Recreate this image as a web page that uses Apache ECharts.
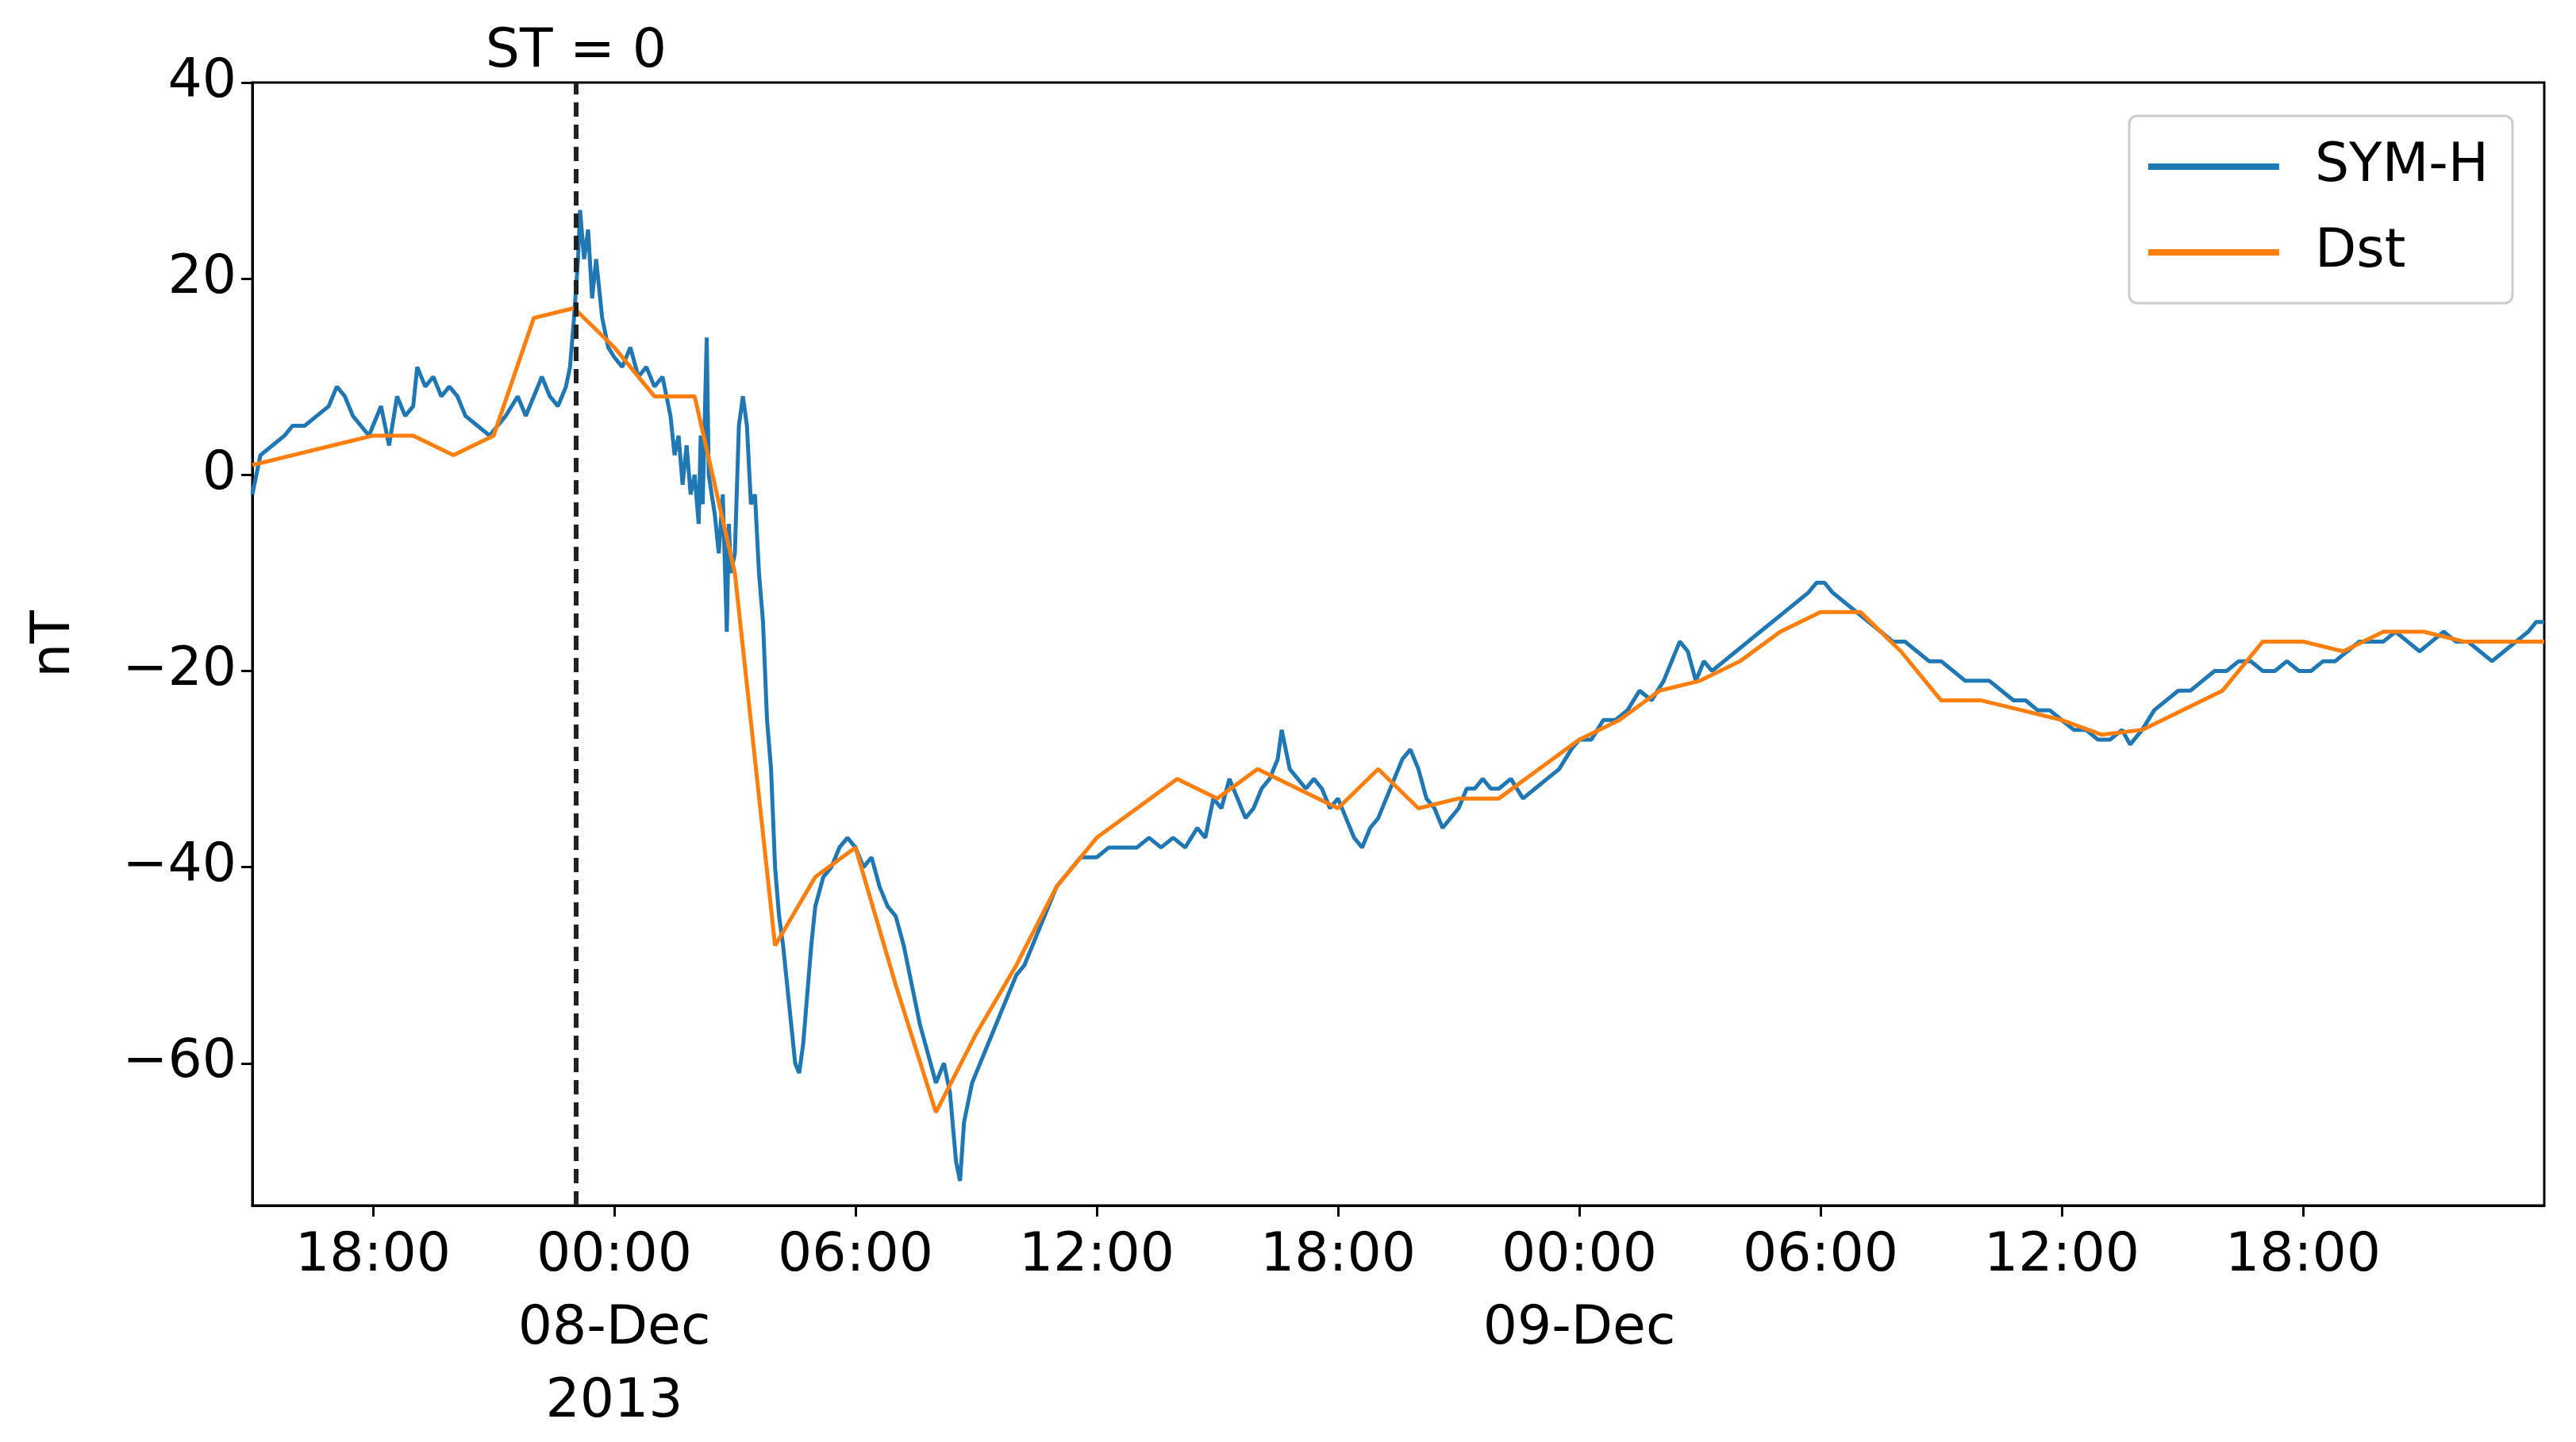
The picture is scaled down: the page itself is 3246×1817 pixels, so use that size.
<!DOCTYPE html>
<html>
<head>
<meta charset="utf-8">
<script src="https://cdn.jsdelivr.net/npm/echarts@6/dist/echarts.min.js"></script>
<style>html,body{margin:0;background:#fff}#c{width:3246px;height:1817px}</style>
</head>
<body>
<div id="c"></div>
<script>
// hours since 07-Dec-2013 00:00
const dstHours = [15,16,17,18,19,20,21,22,23,24,25,26,27,28,29,30,31,32,33,34,35,36,37,38,39,40,41,42,43,44,45,46,47,48,49,50,51,52,53,54,55,56,57,58,59,60,61,62,63,64,65,66,67,68,69,70,71,72];
const dstValues = [1,2,3,4,4,2,4,16,17,13,8,8,-10,-48,-41,-38,-52,-65,-57,-50,-42,-37,-34,-31,-33,-30,-32,-34,-30,-34,-33,-33,-30,-27,-25,-22,-21,-19,-16,-14,-14,-18,-23,-23,-24,-25,-26.5,-26,-24,-22,-17,-17,-18,-16,-16,-17,-17,-17];

const symhHours = [15.0,15.1,15.2,15.5,15.8,16.0,16.3,16.6,16.9,17.1,17.3,17.5,17.7,17.9,18.0,18.2,18.4,18.6,18.8,19.0,19.1,19.3,19.5,19.7,19.9,20.1,20.3,20.6,20.9,21.1,21.3,21.6,21.8,22.0,22.2,22.4,22.6,22.8,22.9,23.0,23.1,23.15,23.25,23.35,23.45,23.55,23.7,23.85,24.0,24.2,24.4,24.6,24.8,25.0,25.2,25.4,25.5,25.6,25.7,25.8,25.9,26.0,26.1,26.15,26.2,26.3,26.35,26.5,26.6,26.7,26.8,26.85,26.9,27.0,27.1,27.2,27.3,27.4,27.5,27.6,27.7,27.8,27.9,28.0,28.1,28.2,28.3,28.4,28.5,28.6,28.7,28.8,28.9,29.0,29.2,29.4,29.6,29.8,30.0,30.2,30.4,30.6,30.8,31.0,31.2,31.4,31.6,31.8,32.0,32.2,32.35,32.5,32.6,32.7,32.9,33.0,33.2,33.4,33.6,33.8,34.0,34.2,34.4,34.6,34.8,35.0,35.2,35.4,35.6,35.8,36.0,36.3,36.6,37.0,37.3,37.6,37.9,38.2,38.5,38.7,38.9,39.1,39.3,39.5,39.7,39.9,40.1,40.3,40.5,40.6,40.8,41.0,41.2,41.4,41.6,41.8,42.0,42.2,42.4,42.6,42.8,43.0,43.2,43.4,43.6,43.8,44.0,44.2,44.4,44.6,44.8,45.0,45.2,45.4,45.6,45.8,46.0,46.3,46.6,46.9,47.2,47.5,47.8,48.0,48.3,48.6,48.9,49.2,49.5,49.8,50.1,50.3,50.5,50.7,50.9,51.1,51.3,51.6,51.9,52.2,52.5,52.8,53.1,53.4,53.7,53.9,54.1,54.3,54.6,54.9,55.2,55.5,55.8,56.1,56.4,56.7,57.0,57.3,57.6,57.9,58.2,58.5,58.8,59.1,59.4,59.7,60.0,60.3,60.6,60.9,61.2,61.5,61.7,62.0,62.3,62.6,62.9,63.2,63.5,63.8,64.1,64.4,64.7,65.0,65.3,65.6,65.9,66.2,66.5,66.8,67.1,67.4,67.7,68.0,68.3,68.6,68.9,69.2,69.5,69.8,70.1,70.4,70.7,71.0,71.3,71.6,71.8,72.0];
const symhValues = [-2,0,2,3,4,5,5,6,7,9,8,6,5,4,5,7,3,8,6,7,11,9,10,8,9,8,6,5,4,5,6,8,6,8,10,8,7,9,11,16,22,27,22,25,18,22,16,13,12,11,13,10,11,9,10,6,2,4,-1,3,-2,0,-5,4,-3,14,0,-4,-8,-2,-16,-5,-10,-8,5,8,5,-3,-2,-10,-15,-25,-30,-40,-45,-48,-52,-56,-60,-61,-58,-53,-48,-44,-41,-40,-38,-37,-38,-40,-39,-42,-44,-45,-48,-52,-56,-59,-62,-60,-63,-70,-72,-66,-62,-61,-59,-57,-55,-53,-51,-50,-48,-46,-44,-42,-41,-40,-39,-39,-39,-38,-38,-38,-37,-38,-37,-38,-36,-37,-33,-34,-31,-33,-35,-34,-32,-31,-29,-26,-30,-31,-32,-31,-32,-34,-33,-35,-37,-38,-36,-35,-33,-31,-29,-28,-30,-33,-34,-36,-35,-34,-32,-32,-31,-32,-32,-31,-33,-32,-31,-30,-28,-27,-27,-25,-25,-24,-22,-23,-21,-19,-17,-18,-21,-19,-20,-19,-18,-17,-16,-15,-14,-13,-12,-11,-11,-12,-13,-14,-15,-16,-17,-17,-18,-19,-19,-20,-21,-21,-21,-22,-23,-23,-24,-24,-25,-26,-26,-27,-27,-26,-27.5,-26,-24,-23,-22,-22,-21,-20,-20,-19,-19,-20,-20,-19,-20,-20,-19,-19,-18,-17,-17,-17,-16,-17,-18,-17,-16,-17,-17,-18,-19,-18,-17,-16,-15,-15];

const xTicks = [18,24,30,36,42,48,54,60,66];
const xTickLabels = {18:'18:00',24:'00:00\n08-Dec\n2013',30:'06:00',36:'12:00',42:'18:00',48:'00:00\n09-Dec',54:'06:00',60:'12:00',66:'18:00'};
const yTicks = [-60,-40,-20,0,20,40];
const stHour = 23.05;

const chart = echarts.init(document.getElementById('c'));
const font = 'DejaVu Sans';
chart.setOption({
  backgroundColor: '#fff',
  animation: false,
  textStyle: { fontFamily: font },
  grid: { left: 318, right: 40, top: 104, bottom: 298, show: true, borderColor: '#000', borderWidth: 3 },
  legend: {
    right: 80, top: 146,
    orient: 'vertical',
    padding: [30, 30, 30, 24],
    itemGap: 40,
    itemWidth: 165, itemHeight: 8,
    borderColor: '#ccc', borderWidth: 3, borderRadius: 10,
    textStyle: { fontSize: 68, color: '#000', fontFamily: font, padding: [0, 0, 0, 40] },
    data: [{ name: 'SYM-H', icon: 'rect' }, { name: 'Dst', icon: 'rect' }]
  },
  xAxis: {
    type: 'value', min: 15, max: 72,
    splitLine: { show: false },
    axisLine: { onZero: false, lineStyle: { color: '#000', width: 3 } },
    axisTick: { customValues: xTicks, length: 14, lineStyle: { color: '#000', width: 3 } },
    axisLabel: {
      customValues: xTicks, fontSize: 68, color: '#000', lineHeight: 92, margin: 18,
      formatter: v => xTickLabels[v] || ''
    }
  },
  yAxis: {
    type: 'value', min: -74.5, max: 40,
    name: 'nT', nameLocation: 'middle', nameGap: 215, nameRotate: 90,
    nameTextStyle: { fontSize: 68, color: '#000' },
    splitLine: { show: false },
    axisLine: { onZero: false, lineStyle: { color: '#000', width: 3 } },
    axisTick: { customValues: yTicks, length: 14, lineStyle: { color: '#000', width: 3 } },
    axisLabel: {
      customValues: yTicks, fontSize: 68, color: '#000', margin: 20,
      formatter: v => (v < 0 ? '\u2212' + Math.abs(v) : String(v))
    }
  },
  series: [
    {
      name: 'SYM-H', type: 'line', showSymbol: false, symbol: 'none',
      color: '#1f77b4', lineStyle: { width: 5, color: '#1f77b4' },
      data: symhHours.map((h, i) => [h, symhValues[i]]),
      markLine: {
        silent: true, symbol: 'none',
        lineStyle: { color: '#222', type: [18, 10], width: 6 },
        label: { show: true, position: 'end', formatter: 'ST = 0', fontSize: 68, color: '#000', distance: 4 },
        data: [[{ coord: [stHour, -74.5] }, { coord: [stHour, 40] }]]
      }
    },
    {
      name: 'Dst', type: 'line', showSymbol: false, symbol: 'none',
      color: '#ff7f0e', lineStyle: { width: 5, color: '#ff7f0e' },
      data: dstHours.map((h, i) => [h, dstValues[i]])
    }
  ]
});
</script>
</body>
</html>
